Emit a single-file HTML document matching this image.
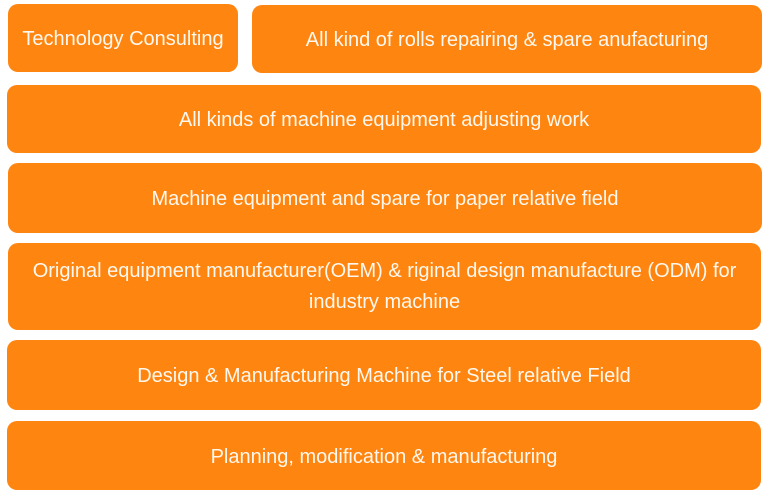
<!DOCTYPE html>
<html><head><style>
body{margin:0;width:763px;height:499px;background:#fff;position:relative;overflow:hidden;font-family:"Liberation Sans",sans-serif;}
.b{position:absolute;background:#FF8511;border-radius:10px;color:#fff8ee;font-size:20px;display:flex;align-items:center;justify-content:center;text-align:center;line-height:31px;white-space:nowrap;box-sizing:border-box;padding-top:3px;}
</style></head><body>
<div class="b" style="left:8px;top:4px;width:230px;height:68px;">Technology Consulting</div>
<div class="b" style="left:252px;top:5px;width:510px;height:68px;">All kind of rolls repairing &amp; spare anufacturing</div>
<div class="b" style="left:7px;top:85px;width:754px;height:68px;">All kinds of machine equipment adjusting work</div>
<div class="b" style="left:8px;top:163px;width:754px;height:70px;">Machine equipment and spare for paper relative field</div>
<div class="b" style="left:8px;top:243px;width:753px;height:87px;align-items:flex-start;padding-top:13px;">Original equipment manufacturer(OEM) &amp; riginal design manufacture (ODM) for<br>industry machine</div>
<div class="b" style="left:7px;top:340px;width:754px;height:70px;">Design &amp; Manufacturing Machine for Steel relative Field</div>
<div class="b" style="left:7px;top:421px;width:754px;height:69px;">Planning, modification &amp; manufacturing</div>
</body></html>
